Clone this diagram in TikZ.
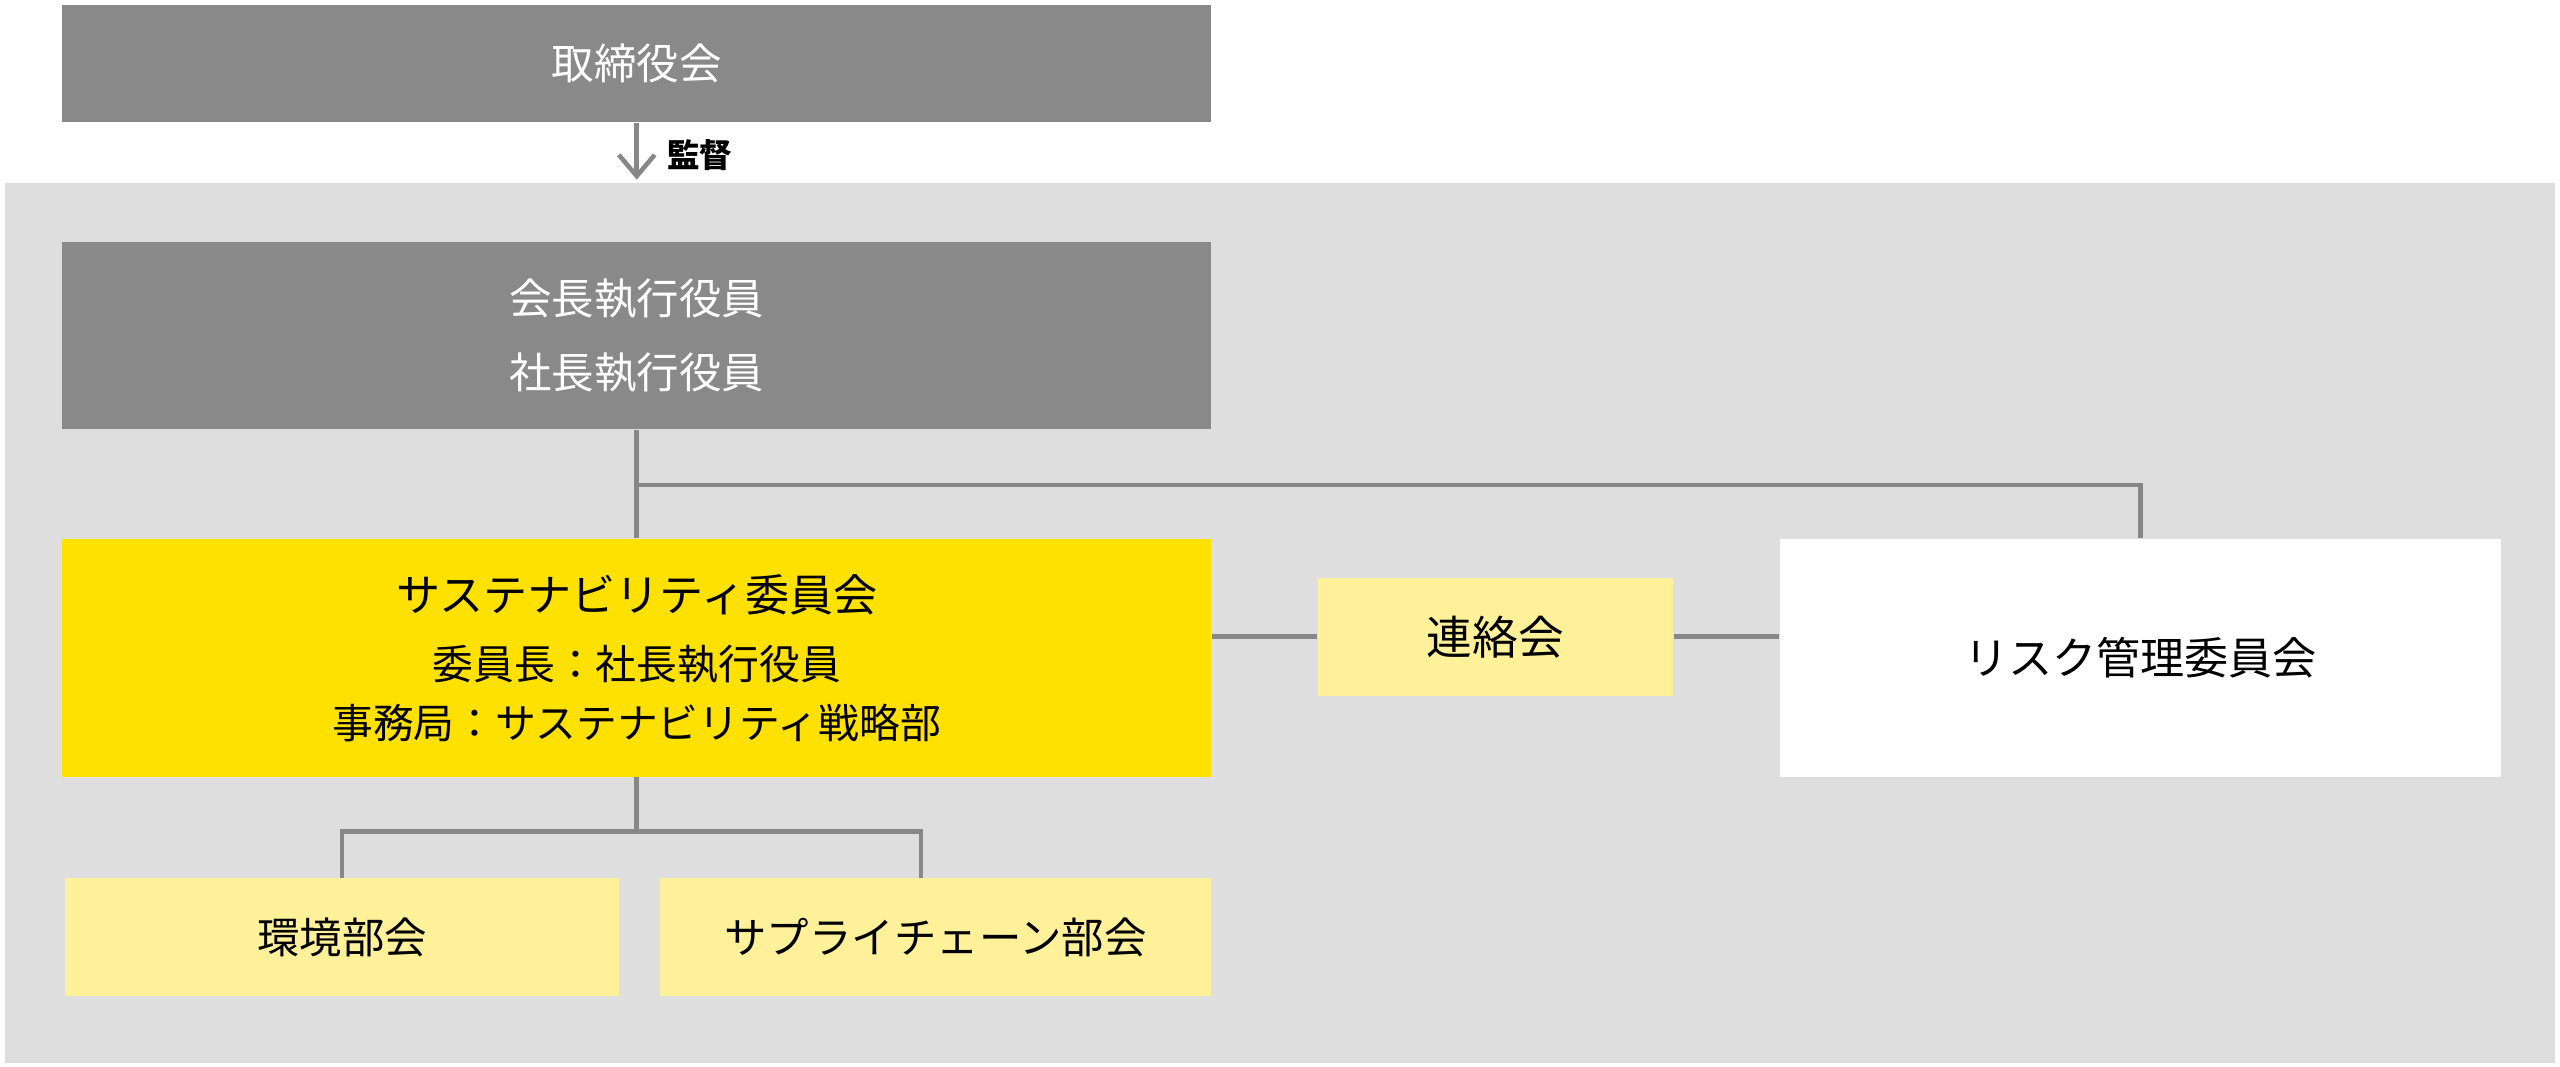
\documentclass[tikz,border=0pt]{standalone}
\usepackage{fontspec}
\setmainfont{Noto Sans CJK JP}
\usepackage{xcolor}
\usepackage{tikz}
\usetikzlibrary{calc,arrows.meta}

\definecolor{boxgray}{HTML}{898989}
\definecolor{bggray}{HTML}{DEDEDE}
\definecolor{linegray}{HTML}{878787}
\definecolor{mainyellow}{HTML}{FFE100}
\definecolor{paleyellow}{HTML}{FFF09A}

\begin{document}
\begin{tikzpicture}[x=1pt,y=-1pt,
    box/.style={rectangle, inner sep=0pt, align=center, font=\fontsize{26}{45}\selectfont},
    darkbox/.style={box, fill=boxgray, text=white},
    palebox/.style={box, fill=paleyellow},
    link/.style={line width=2.8pt, linegray}]
    \useasboundingbox (0,0) rectangle (1568,653);
    % Background
    \fill[bggray] (3,112) rectangle (1565,651);
    %
    \node[darkbox, minimum width=704, minimum height=72] (board) at (390,39) {取締役会};
    \node[darkbox, minimum width=704, minimum height=115] (exec) at (390,205.5) {会長執行役員\\社長執行役員};
    %
    \node[box, fill=mainyellow, minimum width=704, minimum height=146, font=\fontsize{25}{36}\selectfont] (susc) at (390,403)
        {{\fontsize{27}{36}\selectfont サステナビリティ委員会}\\[6pt]委員長：社長執行役員\\事務局：サステナビリティ戦略部};
    \node[palebox, minimum width=218, minimum height=72, font=\fontsize{28}{36}\selectfont] (liaison) at (916,390) {連絡会};
    \node[box, fill=white, minimum width=442, minimum height=146, font=\fontsize{27}{36}\selectfont] (risk) at (1311,403) {リスク管理委員会};
    %
    \node[palebox, minimum width=339, minimum height=72] (env) at (209.5,574) {環境部会};
    \node[palebox, minimum width=338, minimum height=72] (supply) at (573,574) {サプライチェーン部会};
    % Links
    \coordinate (bgtop) at (390,110);
    \draw[link, -{Straight Barb[length=13pt, width=22pt]}] (board.south) -- (bgtop);
    \node[anchor=west, font=\fontsize{20}{20}\selectfont\bfseries] (watch) at (405,95) {監督};
    %
    \draw[link] (exec.south) -- (susc.north);
    \draw[link] (exec.south |- 0,297) -| (risk.north);
    \draw[link] (liaison.west -| susc.east) -- (liaison.west);
    \draw[link] (liaison.east) -- (liaison.east -| risk.west);
    %
    \draw[link] (susc.south) -- ++(0,33) coordinate (fork);
    \draw[link] (env.north) |- (fork) -| ([xshift=-9pt]supply.north);
\end{tikzpicture}
\end{document}
